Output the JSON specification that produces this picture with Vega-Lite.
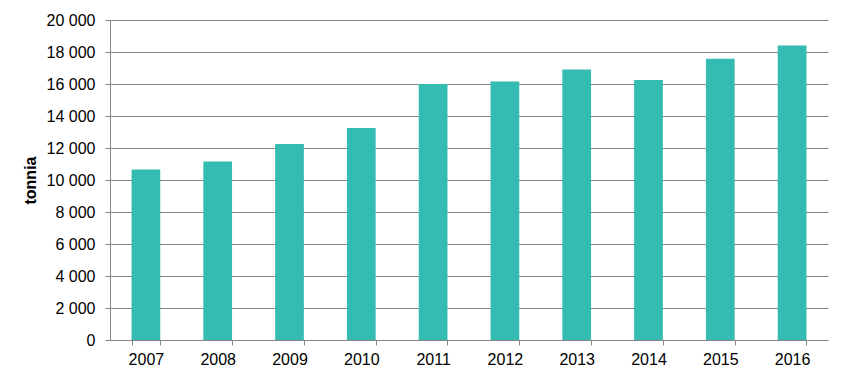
{
  "$schema": "https://vega.github.io/schema/vega-lite/v6.json",
  "width": 718,
  "height": 320,
  "autosize": {"type": "none"},
  "padding": {"left": 110, "top": 20, "right": 22, "bottom": 42},
  "background": "white",
  "config": {"view": {"stroke": null}, "font": "Liberation Sans"},
  "data": {"values": [
    {"year": "2007", "tonnia": 10650},
    {"year": "2008", "tonnia": 11150},
    {"year": "2009", "tonnia": 12250},
    {"year": "2010", "tonnia": 13250},
    {"year": "2011", "tonnia": 16000},
    {"year": "2012", "tonnia": 16150},
    {"year": "2013", "tonnia": 16900},
    {"year": "2014", "tonnia": 16250},
    {"year": "2015", "tonnia": 17580},
    {"year": "2016", "tonnia": 18400}
  ]},
  "mark": {"type": "bar", "color": "#35BCB2"},
  "encoding": {
    "x": {"field": "year", "type": "nominal", "title": null,
      "scale": {"paddingInner": 0.6, "paddingOuter": 0.3},
      "axis": {"labelAngle": 0, "labelFontSize": 16, "labelColor": "#000", "tickBand": "extent", "tickColor": "#868686", "domainColor": "#868686", "tickSize": 5, "labelPadding": 6}},
    "y": {"field": "tonnia", "type": "quantitative", "title": "tonnia",
      "scale": {"domain": [0, 20000]},
      "axis": {"values": [0,2000,4000,6000,8000,10000,12000,14000,16000,18000,20000],
        "labelExpr": "replace(format(datum.value, ','), ',', ' ')",
        "labelFontSize": 16, "labelColor": "#000", "gridColor": "#868686", "tickColor": "#868686", "domainColor": "#868686", "tickSize": 5, "labelPadding": 10,
        "titleFontSize": 16, "titleFontWeight": "bold", "titleColor": "#000", "titlePadding": 8}}
  }
}
